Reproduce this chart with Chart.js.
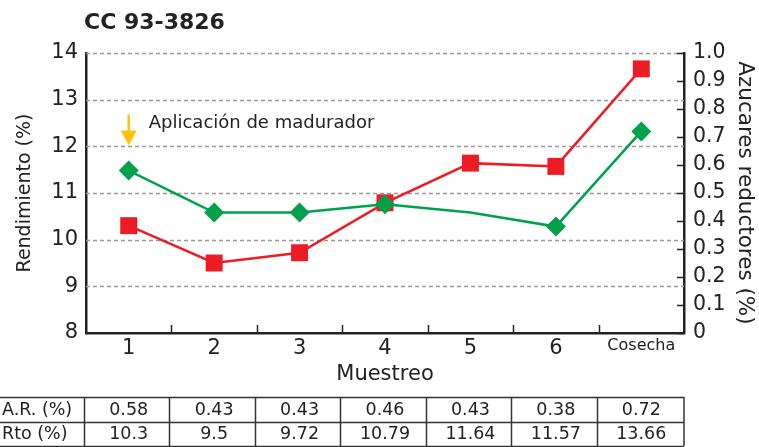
<!DOCTYPE html>
<html>
<head>
<meta charset="utf-8">
<script src="https://cdn.jsdelivr.net/npm/chart.js@4/dist/chart.umd.min.js"></script>
<style>
  html, body { margin: 0; padding: 0; background: #fff; }
  #wrap { width: 759px; height: 447px; position: relative; }
</style>
</head>
<body>
<div id="wrap"><canvas id="chart"></canvas></div>
<script>
// Data
const titleText = "CC 93-3826";
const labels = ["1", "2", "3", "4", "5", "6", "Cosecha"];
const arValues = [0.58, 0.43, 0.43, 0.46, 0.43, 0.38, 0.72];   // Azucares reductores (%)
const rtoValues = [10.3, 9.5, 9.72, 10.79, 11.64, 11.57, 13.66]; // Rendimiento (%)
const arMarker = [10, 10, 10, 10, 0, 10, 10]; // point 5 has no marker in the original
const tableRows = [
    { label: "A.R. (%)", values: ["0.58", "0.43", "0.43", "0.46", "0.43", "0.38", "0.72"] },
    { label: "Rto (%)", values: ["10.3", "9.5", "9.72", "10.79", "11.64", "11.57", "13.66"] }
];
// annotation: arrow over the first sample
const noteText = "Aplicación de madurador";
const noteIndex = 0;
const noteFrom = 12.68, noteTo = 12.02;

const RED = "#ED1C24";
const GREEN = "#00A14B";
const INK = "#222";
const FONT = '"DejaVu Sans", Verdana, sans-serif';

// extra drawing: title, inner tick marks, dashed grid, annotation, table
const overlay = {
    id: "overlay",
    beforeDatasetsDraw(chart) {
        const { ctx, chartArea: a, scales: { y } } = chart;
        ctx.save();
        ctx.strokeStyle = "#999";
        ctx.lineWidth = 1.5;
        ctx.setLineDash([4, 3]);
        y.ticks.forEach(t => {
            if (t.value === y.min) return;
            const py = Math.round(y.getPixelForValue(t.value)) + 0.5;
            ctx.beginPath();
            ctx.moveTo(a.left, py);
            ctx.lineTo(a.right, py);
            ctx.stroke();
        });
        ctx.restore();
    },
    afterDraw(chart) {
        const { ctx, chartArea: a, scales: { x, y, y1 } } = chart;
        ctx.save();

        // title
        ctx.fillStyle = INK;
        ctx.font = "bold 22px " + FONT;
        ctx.textBaseline = "middle";
        ctx.textAlign = "left";
        ctx.fillText(titleText, a.left - 2, 23);

        // inward tick marks on x axis and right axis
        ctx.strokeStyle = INK;
        ctx.lineWidth = 1.5;
        const half = (x.getPixelForValue(1) - x.getPixelForValue(0)) / 2;
        for (let i = 1; i < labels.length; i++) {
            const bx = Math.round(x.getPixelForValue(i) - half) + 0.5;
            ctx.beginPath();
            ctx.moveTo(bx, a.bottom);
            ctx.lineTo(bx, a.bottom - 8);
            ctx.stroke();
        }
        y1.ticks.forEach(t => {
            const py = Math.round(y1.getPixelForValue(t.value)) + 0.5;
            ctx.beginPath();
            ctx.moveTo(a.right - 7, py);
            ctx.lineTo(a.right, py);
            ctx.stroke();
        });

        // annotation arrow
        const ax = x.getPixelForValue(noteIndex);
        const top = y.getPixelForValue(noteFrom);
        const tip = y.getPixelForValue(noteTo);
        ctx.strokeStyle = "#FFC20E";
        ctx.fillStyle = "#FFC20E";
        ctx.lineWidth = 2.5;
        ctx.beginPath();
        ctx.moveTo(ax, top);
        ctx.lineTo(ax, tip - 12);
        ctx.stroke();
        ctx.beginPath();
        ctx.moveTo(ax - 8, tip - 15);
        ctx.lineTo(ax + 8, tip - 15);
        ctx.lineTo(ax, tip);
        ctx.closePath();
        ctx.fill();
        ctx.fillStyle = INK;
        ctx.font = "18px " + FONT;
        ctx.textAlign = "left";
        ctx.textBaseline = "middle";
        ctx.fillText(noteText, ax + 20, (top + tip) / 2 - 7);

        // data table
        const rowTop = 397, rowH = 24.5;
        ctx.strokeStyle = "#333";
        ctx.lineWidth = 1.5;
        for (let r = 0; r <= tableRows.length; r++) {
            const py = Math.round(rowTop + r * rowH) + 0.5;
            ctx.beginPath();
            ctx.moveTo(0, py);
            ctx.lineTo(a.right, py);
            ctx.stroke();
        }
        for (let i = 0; i <= labels.length; i++) {
            const bx = i < labels.length ? Math.round(x.getPixelForValue(i) - half) - 1.5 : a.right;
            ctx.beginPath();
            ctx.moveTo(bx, rowTop);
            ctx.lineTo(bx, rowTop + tableRows.length * rowH);
            ctx.stroke();
        }
        ctx.fillStyle = INK;
        ctx.font = "17.5px " + FONT;
        ctx.textBaseline = "middle";
        tableRows.forEach((row, r) => {
            const cy = rowTop + r * rowH + rowH / 2 + 1;
            ctx.textAlign = "left";
            ctx.fillText(row.label, 2, cy);
            ctx.textAlign = "center";
            row.values.forEach((v, i) => ctx.fillText(v, x.getPixelForValue(i), cy));
        });
        ctx.restore();
    }
};

new Chart(document.getElementById("chart"), {
    type: "line",
    data: {
        labels: labels,
        datasets: [
            {
                label: "A.R. (%)",
                data: arValues,
                yAxisID: "y1",
                borderColor: GREEN,
                backgroundColor: GREEN,
                borderWidth: 2.5,
                pointStyle: "rectRot",
                pointRadius: arMarker,
                pointBorderWidth: 0,
                tension: 0
            },
            {
                label: "Rto (%)",
                data: rtoValues,
                yAxisID: "y",
                borderColor: RED,
                backgroundColor: RED,
                borderWidth: 2.5,
                pointStyle: "rect",
                pointRadius: 12,
                pointBorderWidth: 0,
                tension: 0
            }
        ]
    },
    options: {
        responsive: true,
        maintainAspectRatio: false,
        animation: false,
        events: [],
        layout: { padding: { top: 53, bottom: 57, left: 0, right: 0 } },
        plugins: { legend: { display: false }, tooltip: { enabled: false }, title: { display: false } },
        scales: {
            x: {
                offset: true,
                grid: { display: false, drawTicks: false },
                border: { display: true, color: INK, width: 2.5 },
                ticks: {
                    color: INK,
                    padding: 3,
                    font: c => ({ family: FONT, size: c.index === labels.length - 1 ? 16 : 21 })
                },
                title: { display: true, text: "Muestreo", color: INK, font: { family: FONT, size: 21 }, padding: { top: 0, bottom: 3 } },
                afterFit: s => { s.height = 57; }
            },
            y: {
                position: "left",
                min: 8, max: 14,
                grid: { display: false, drawTicks: false },
                border: { display: true, color: INK, width: 2.5 },
                ticks: { stepSize: 1, color: INK, padding: 8, font: { family: FONT, size: 21 } },
                title: { display: true, text: "Rendimiento (%)", color: INK, font: { family: FONT, size: 19 }, padding: { top: 14, bottom: 0 } },
                afterFit: s => { s.width = 86; }
            },
            y1: {
                position: "right",
                min: 0, max: 1,
                grid: { display: false, drawTicks: false },
                border: { display: true, color: INK, width: 2.5 },
                ticks: {
                    stepSize: 0.1, autoSkip: false, color: INK, padding: 9, font: { family: FONT, size: 20.5 },
                    callback: v => v === 0 ? "0" : v.toFixed(1)
                },
                title: { display: true, text: "Azucares reductores (%)", color: INK, font: { family: FONT, size: 21.5 }, padding: { top: 2, bottom: 0 } },
                afterFit: s => { s.width = 75; }
            }
        }
    },
    plugins: [overlay]
});
</script>
</body>
</html>
